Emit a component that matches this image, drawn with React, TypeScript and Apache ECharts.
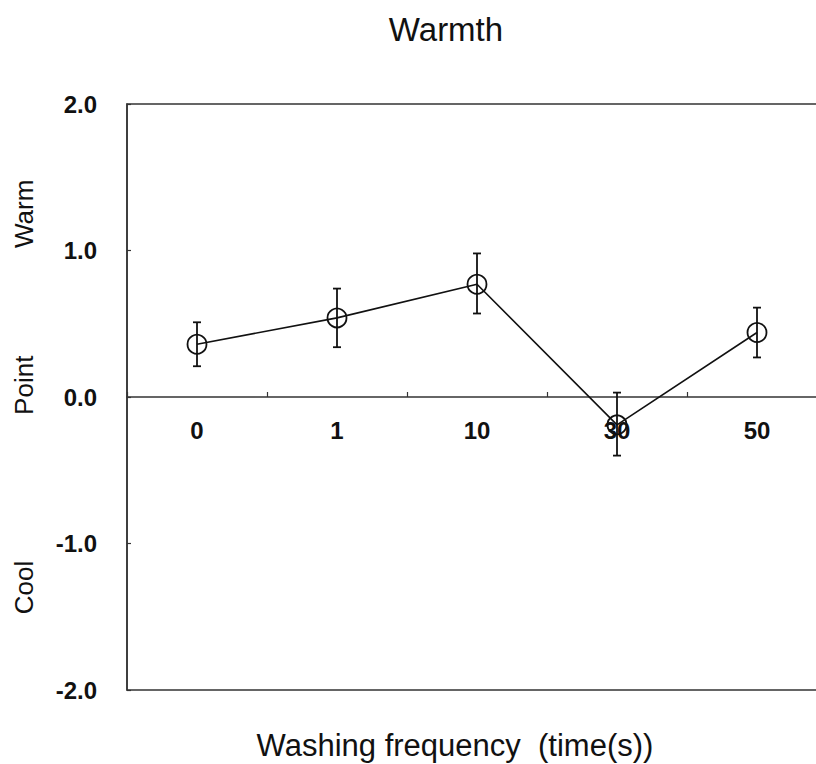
import React, { useEffect, useRef } from "react";
import * as echarts from "echarts";

// Washing frequency categories and the warmth scores measured at each
const categories = ["0", "1", "10", "30", "50"];
const meanValues = [0.36, 0.54, 0.77, -0.19, 0.44];
const upperValues = [0.51, 0.74, 0.98, 0.03, 0.61];
const lowerValues = [0.21, 0.34, 0.57, -0.4, 0.27];

// Scale labels written along the left edge
const scaleNames = ["Warm", "Point", "Cool"];
const scaleNameValues = [1.25, 0.08, -1.3];

const FONT = "'Liberation Sans', Arial, sans-serif";
const INK = "#111";

export default function App() {
  const ref = useRef<HTMLDivElement>(null);

  useEffect(() => {
    if (!ref.current) return;
    const chart = echarts.init(ref.current, undefined, { renderer: "svg" });

    const gridTop = 104;
    const gridHeight = 586;
    const yMin = -2;
    const yMax = 2;
    const yToPx = (v: number) => gridTop + ((yMax - v) / (yMax - yMin)) * gridHeight;
    // lift the category axis from the grid's bottom edge up to the zero line
    const zeroOffset = -(gridTop + gridHeight - yToPx(0));

    const errorData = categories.map((_, i) => [i, lowerValues[i], upperValues[i]]);

    chart.setOption({
      animation: false,
      backgroundColor: "#fff",
      title: {
        text: "Warmth",
        left: 441,
        top: 8,
        textAlign: "center",
        textStyle: { fontFamily: FONT, fontSize: 33, fontWeight: "normal", color: INK },
      },
      grid: {
        left: 127,
        top: gridTop,
        width: 700,
        height: gridHeight,
        outerBoundsMode: "none",
        containLabel: false,
        show: true,
        borderColor: "#333",
        borderWidth: 1.5,
        backgroundColor: "transparent",
      },
      xAxis: {
        type: "category",
        data: categories,
        boundaryGap: true,
        position: "bottom",
        offset: zeroOffset,
        axisLine: { onZero: false, lineStyle: { color: "#333", width: 1.5 } },
        axisTick: { show: true, inside: true, length: 5, lineStyle: { color: "#333", width: 1.2 } },
        axisLabel: {
          margin: 21,
          fontFamily: FONT,
          fontSize: 24,
          fontWeight: "bold",
          color: INK,
        },
        splitLine: { show: false },
      },
      yAxis: {
        type: "value",
        min: yMin,
        max: yMax,
        interval: 1,
        axisLine: { show: true, lineStyle: { color: "#333", width: 1.5 } },
        axisTick: { show: true, inside: true, length: 4, lineStyle: { color: "#333", width: 1.2 } },
        axisLabel: {
          margin: 30,
          fontFamily: FONT,
          fontSize: 24,
          fontWeight: "bold",
          color: INK,
          formatter: (v: number) => v.toFixed(1),
        },
        splitLine: { show: false },
      },
      graphic: [
        ...scaleNames.map((name, i) => ({
          type: "text",
          x: 24,
          y: yToPx(scaleNameValues[i]),
          rotation: Math.PI / 2,
          style: {
            text: name,
            fill: INK,
            font: `26px ${FONT}`,
            textAlign: "center",
            textVerticalAlign: "middle",
          },
        })),
        {
          type: "text",
          x: 455,
          y: 745,
          style: {
            text: "Washing frequency  (time(s))",
            fill: INK,
            font: `31px ${FONT}`,
            textAlign: "center",
            textVerticalAlign: "middle",
          },
        },
      ],
      series: [
        {
          type: "custom",
          name: "error",
          data: errorData,
          encode: { x: 0, y: [1, 2] },
          z: 3,
          renderItem: (params: any, api: any) => {
            const idx = api.value(0);
            const low = api.coord([idx, api.value(1)]);
            const high = api.coord([idx, api.value(2)]);
            const cap = 4;
            const style = { stroke: INK, lineWidth: 1.8 };
            return {
              type: "group",
              children: [
                { type: "line", shape: { x1: high[0], y1: high[1], x2: low[0], y2: low[1] }, style },
                { type: "line", shape: { x1: high[0] - cap, y1: high[1], x2: high[0] + cap, y2: high[1] }, style },
                { type: "line", shape: { x1: low[0] - cap, y1: low[1], x2: low[0] + cap, y2: low[1] }, style },
              ],
            };
          },
        },
        {
          type: "line",
          name: "Warmth",
          data: meanValues,
          z: 4,
          symbol: "circle",
          symbolSize: 19,
          lineStyle: { color: INK, width: 1.6 },
          itemStyle: { color: "transparent", borderColor: INK, borderWidth: 1.8 },
          emphasis: { disabled: true },
        },
      ],
    });

    return () => chart.dispose();
  }, []);

  return (
    <div
      ref={ref}
      style={{ position: "fixed", left: 0, top: 0, width: 816, height: 764, background: "#fff" }}
    />
  );
}
